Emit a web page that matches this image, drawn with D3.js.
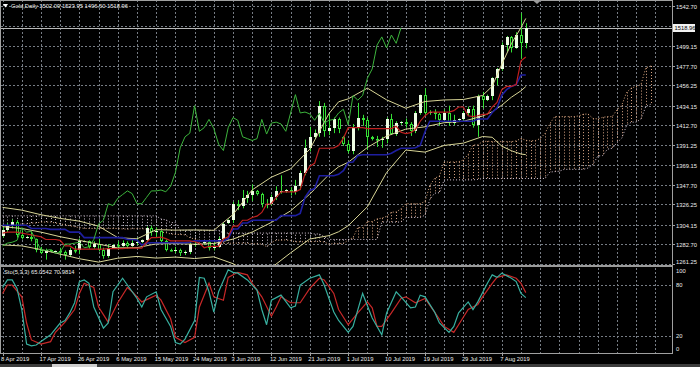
<!DOCTYPE html>
<html>
<head>
<meta charset="utf-8">
<script src="https://cdnjs.cloudflare.com/ajax/libs/d3/7.8.5/d3.min.js"></script>
<style>
  html, body { margin: 0; padding: 0; background: #000; }
  svg { display: block; font-family: "Liberation Sans", Arial, sans-serif; }
</style>
</head>
<body>
<svg id="chart" width="700" height="367"></svg>
<script>
// daily bars, 8 Apr .. 14 Aug 2019 (broker has short Sunday bars)
var opens = [1292,1298,1303,1307,1293,1290,1291,1288,1276,1273,1276,1275,1275,1274,1271,1277,1276,1286,1286,1280,
  1283,1277,1270,1279,1282,1281,1284,1281,1284,1285,1287,1301,1296,1297,1286,1277,1276,1277,1273,1274,
  1283,1283,1284,1285,1279,1280,1288,1306,1309,1327,1325,1333,1337,1341,1338,1327,1327,1334,1341,1341,
  1342,1340,1346,1361,1388,1400,1404,1434,1406,1410,1419,1400,1392,1385,1410,1421,1418,1400,1398,1396,
  1398,1419,1403,1415,1416,1414,1406,1426,1446,1426,1427,1425,1418,1426,1415,1418,1419,1426,1430,1413,
  1445,1440,1445,1464,1474,1500,1509,1497,1511,1502.09];
var highs = [1302,1306,1310,1309,1298,1292,1296,1289,1280,1278,1277,1276,1279,1276,1279,1281,1289,1287,1287,1286,
  1289,1279,1283,1283,1286,1287,1286,1288,1290,1288,1302,1303,1301,1298,1288,1278,1280,1278,1276,1286,
  1286,1285,1287,1287,1285,1291,1306,1310,1329,1331,1342,1341,1348,1342,1339,1332,1337,1346,1358,1343,
  1345,1353,1363,1397,1411,1408,1439,1437,1425,1421,1421,1401,1396,1414,1437,1424,1421,1401,1401,1400,
  1421,1425,1417,1417,1420,1416,1428,1446,1453,1429,1430,1426,1430,1434,1424,1420,1428,1433,1434,1446,
  1449,1446,1465,1475,1503,1510,1510,1514,1535,1523.95];
var lows = [1290,1296,1300,1290,1288,1289,1286,1274,1272,1266,1274,1274,1270,1266,1269,1273,1272,1285,1278,1278,
  1275,1267,1268,1278,1277,1280,1278,1280,1282,1284,1285,1292,1291,1284,1275,1275,1273,1270,1271,1272,
  1280,1282,1282,1276,1276,1279,1287,1305,1306,1320,1322,1328,1330,1336,1323,1322,1325,1331,1338,1339,
  1336,1337,1342,1358,1384,1398,1400,1400,1402,1404,1404,1390,1382,1381,1407,1412,1386,1396,1389,1388,
  1393,1402,1401,1413,1410,1401,1404,1424,1424,1424,1419,1412,1416,1412,1413,1417,1417,1423,1410,1400,
  1431,1439,1440,1456,1472,1493,1492,1496,1485,1496.60];
var closes = [1298,1303,1307,1293,1290,1291,1288,1276,1273,1276,1275,1275,1274,1271,1277,1276,1286,1286,1280,1283,
  1277,1270,1279,1282,1281,1284,1281,1284,1285,1287,1301,1296,1297,1286,1277,1276,1277,1273,1274,1283,
  1283,1284,1285,1279,1280,1288,1305,1309,1327,1325,1333,1337,1341,1338,1327,1327,1334,1341,1341,1342,
  1340,1346,1361,1388,1400,1404,1434,1406,1410,1419,1409,1392,1385,1410,1421,1418,1400,1398,1396,1398,
  1419,1403,1415,1416,1414,1406,1426,1446,1426,1427,1425,1418,1426,1415,1418,1419,1426,1430,1413,1445,
  1440,1445,1464,1474,1500,1509,1497,1511,1502,1518.96];

var tickBars = [0,8,16,24,32,40,48,56,64,72,80,88,96,104];
var tickLabels = ["8 Apr 2019","17 Apr 2019","26 Apr 2019","6 May 2019","15 May 2019","24 May 2019","3 Jun 2019",
  "12 Jun 2019","21 Jun 2019","1 Jul 2019","10 Jul 2019","19 Jul 2019","29 Jul 2019","7 Aug 2019"];
var priceLevels = [1542.70,1520.93,1499.15,1477.70,1456.25,1434.15,1412.70,1391.25,1369.15,1347.70,1326.25,1304.15,1282.70,1261.25];
var stochLevels = [100,80,20,0];

// Ichimoku
var tenkan = [1295,1296,1296,1296,1295,1294,1293,1292,1291,1288,1288,1288,1287,1281,1281,
  1277.5,1277.5,1277.5,1277.5,1277.5,1277.5,1277.5,1278,1278,1278,1278,1278.5,1278.5,1278.5,1278.5,
  1285,1290,1290,1290.5,1289,1286.5,1286.5,1286.5,1286.5,1286.5,1285.5,1284,1279,1280.5,1280.5,1280.5,
  1288.5,1291,1302.5,1302.5,1309,1309,1312,1313.5,1317.5,1326.5,1327,1334,1340,1340,1340,1340,
  1342.5,1359.5,1368,1371,1387.5,1387.5,1387.5,1388,1390.5,1398.5,1410,1410,1410,1410,
  1409,1409,1409,1409,1409,1409,1411.5,1405,1403.5,1404.5,1408,1417,1423,1427,1427,1427,1427,1427,
  1428.5,1432.5,1432.5,1423,1422,1423,1424.5,1424.5,1432.5,1437.5,1451.5,1455,1455,1457,1483,1487];
var kijun = [1303.5,1303.5,1303.5,1303.5,1303.5,1303.5,1300,1300,1300,1300,1299,1299,1299,1299,1296,1296,1296,
  1290,1290,1290,1290,1290,1290,1290,1290,1290,1288,1288,1287.5,1282,1284,
  1284.5,1284.5,1284.5,1284.5,1284.5,1284.5,1284.5,1284.5,1285,1286.5,1286.5,1286.5,1286.5,1286.5,1286.5,1286.5,
  1289,1299.5,1299.5,1306,1306,1309,1309,1309,1309,1309,1309,1314,1314,1314,1314,1316.5,1334,1341.5,1343.5,
  1357.5,1357.5,1357.5,1357.5,1359,1363,1372,1372.5,1379.5,1380.5,1380.5,1380.5,1380.5,1380.5,1380.5,
  1382,1385,1387.5,1387.5,1387.5,1388,1390.5,1405.5,1417,1417,1417,1417,1417,1417,1417,1417,1417,1417,
  1419.5,1419.5,1419.5,1426.5,1431.5,1445.5,1451.5,1455,1457,1467.5,1467.5];
// senkou spans as displayed (already shifted 26 bars ahead), bars 0..135
var spanA = [1302,1302,1303,1304,1305,1305,1306,1306,1307,1307,1307,1306,1305,1304,1303,1302,1301,1300,1300,1300,
  1300,1300,1300,1300,1300,1299.5,1299.25,1299.75,1299.75,1299.75,1299.25,1298.75,1296.5,1296,1295.5,1294,
  1293.5,1293.5,1293,1290,1288.5,1286.75,1286.75,1283.75,1283.75,1283.75,1283.75,1283.75,1284,1284,1284,1284,
  1283.25,1283.25,1283,1280.25,1284.5,1287.25,1287.25,1287.5,1286.75,1285.5,1285.5,1285.5,1285.5,1285.75,
  1286,1285.25,1282.75,1283.5,1283.5,1283.5,1287.5,1290,1301,1301,1307.5,1307.5,1310.5,1311.25,1313.25,
  1317.75,1318,1321.5,1327,1327,1327,1327,1329.5,1346.75,1354.75,1357.25,1372.5,1372.5,1372.5,1372.75,
  1374.75,1380.75,1391,1391.25,1394.75,1395.25,1394.75,1394.75,1394.75,1394.75,1394.75,1395.5,1398.25,
  1396.25,1395.5,1396,1398,1403.75,1414.25,1422,1422,1422,1422,1422,1422.75,1424.75,1424.75,1420,1419.5,
  1421.25,1422,1422,1429.5,1434.5,1448.5,1453.25,1455,1457,1475.25,1477.25];
var spanB = [1313.8,1313.8,1313.8,1313.8,1313.8,1313.8,1313.8,1313.8,1313.8,1313.8,1313.8,1313.8,1313.8,1313.8,
  1313.8,1313.8,1313.8,1313.8,1313.8,1313.8,1313.8,1313.8,1313.8,1313.8,1313.8,1313.8,1313.8,1313.8,1313.8,
  1313.8,1313.8,1313.8,1313.8,1310.4,1309.4,1306.4,1306.4,1298,1298,1298,1298,1298,1298,1298,1298,1298,
  1295,1295,1295,1295,1295,1295,1295,1295,1295,1295,1295,1295,1295,1295,1295,1295,1295,1295,1295,
  1294,1294,1291,1288,1288,1288,1288,1288,1288,1288,1288,1288,1288,1288,1307,1307,1307,1307,1307,
  1312,1312,1312,1312,1314.5,1331.5,1338.5,1339,1353,1353,1353,1353,1353,1353,1353,1353.5,
  1354.5,1354.5,1354.5,1354.5,1354.5,1354.5,1354.5,1354.5,1354.5,1354.5,1354.5,1354.5,1354.5,1354.5,
  1361.5,1362,1362.5,1364.5,1364.5,1364.5,1364.5,1364.5,1366,1370,1379,1379.5,1386.5,1387.5,1393.5,
  1398.5,1412.5,1416,1416,1419.5,1433,1435.5];

// Bollinger bands (20, 2)
var bbUpper = [[0,1323],[4,1320],[8,1315],[12,1311],[16,1308],[20,1302.5],[24,1290],[28,1288.7],[32,1298.7],
  [36,1298.2],[40,1298.4],[44,1298],[48,1315.2],[52,1342.1],[56,1356],[60,1365],[64,1386.5],[68,1425.4],
  [70,1438.2],[72,1441.4],[76,1453.1],[80,1440.3],[84,1431.2],[88,1438.5],[92,1440.2],[96,1440.7],
  [100,1445.1],[102,1455.1],[104,1479.2],[106,1501.6],[108,1519.2],[109,1529.1]];
var bbMiddle = [[0,1302],[4,1300],[8,1296],[12,1291],[16,1287],[19,1283.9],[24,1278.8],[28,1279.1],[32,1283.2],
  [36,1283.5],[40,1282.8],[44,1283.6],[48,1288.4],[52,1296.1],[56,1306.6],[60,1319.2],[64,1337.5],[68,1358.8],
  [70,1367.3],[72,1372.2],[76,1388.4],[80,1400.7],[84,1408.4],[88,1410.9],[92,1415.4],[96,1416.9],
  [100,1422.7],[102,1427.3],[104,1434.5],[106,1443.2],[108,1450.2],[109,1454.8]];
var bbLower = [[0,1282],[4,1281],[8,1277],[12,1272],[16,1267],[20,1263.3],[24,1267.6],[28,1269.5],[32,1267.7],
  [36,1268.8],[40,1267.2],[44,1269.1],[48,1261.6],[52,1250.1],[56,1257.2],[60,1273.4],[64,1288.5],[68,1292.2],
  [70,1296.4],[72,1303],[76,1323.7],[80,1361.1],[84,1385.6],[88,1383.3],[92,1390.6],[96,1393.1],
  [100,1400.3],[102,1399.5],[104,1389.8],[106,1384.8],[108,1381.2],[109,1380.5]];

// Stochastic (5,3,3)
var stochMain = [[0,77],[1,86],[2,86],[3,76],[4,51],[5,10],[6,8],[7,9],[8,13],[10,21],[12,35],[13,38],[14,47],
  [15,59],[16,84],[17,86],[18,82],[19,54],[21,29],[22,35],[23,72],[25,88],[26,80],[28,64],[29,54],[30,66],
  [32,72],[33,51],[35,31],[36,12],[37,10],[38,16],[40,38],[41,89],[42,88],[43,72],[44,48],[45,72],[47,98],
  [48,95],[49,94],[51,86],[53,74],[54,51],[55,33],[56,62],[58,68],[60,53],[61,55],[62,80],[64,88],[66,92],
  [67,80],[69,48],[70,38],[72,24],[73,31],[75,70],[77,41],[79,21],[80,47],[82,72],[83,66],[85,53],[86,54],
  [87,68],[88,66],[90,48],[91,35],[93,24],[94,31],[95,47],[97,60],[98,51],[99,60],[101,82],[102,92],[103,89],
  [104,94],[106,88],[107,84],[108,70],[109,65.05]];
var stochSignal = [[0,70],[1,80],[2,80],[4,66],[5,35],[6,15],[8,10],[10,13],[11,24],[13,36],[15,51],[16,70],
  [17,82],[19,77],[20,54],[22,36],[24,59],[26,77],[27,72],[29,60],[32,68],[33,62],[35,40],[36,18],[38,12],
  [40,18],[41,54],[43,82],[44,66],[46,62],[47,89],[49,95],[51,92],[52,82],[54,66],[56,43],[57,54],[58,66],
  [60,59],[62,59],[64,76],[66,88],[67,86],[69,70],[70,51],[72,33],[74,47],[76,60],[77,53],[78,31],[79,31],
  [81,47],[83,64],[84,66],[86,59],[88,64],[90,48],[92,31],[94,24],[95,33],[97,51],[99,57],[100,66],[102,82],
  [103,89],[105,92],[107,88],[108,82],[109,70.98]];

var header = "Gold,Daily  1502.09 1523.95 1496.60 1518.96";
var stochTitle = "Sto(5,3,3) 65.0542 70.9814";
var chikouShift = 26;

var svg = d3.select("#chart");
var W = 700, right = 672, mainTop = 1, mainBottom = 265, stTop = 268, stBottom = 353;

var x = d3.scaleLinear().domain([0, 137]).range([2.6, 2.6 + 4.8 * 137]);
var y = d3.scaleLinear().domain([1261.25, 1542.7]).range([264, 6]);
var ys = d3.scaleLinear().domain([0, 100]).range([352.6, 268.1]);
var px = function(i) { return Math.round(x(i)) + 0.5; };

svg.append("rect").attr("width", W).attr("height", 367).attr("fill", "#000");

var defs = svg.append("defs");
defs.append("clipPath").attr("id", "clipMain").append("rect")
  .attr("x", 1).attr("y", mainTop).attr("width", right - 1).attr("height", mainBottom - mainTop);
defs.append("clipPath").attr("id", "clipSto").append("rect")
  .attr("x", 1).attr("y", stTop).attr("width", right - 1).attr("height", stBottom - stTop);

var gridColor = "#767c84";

// vertical grid, both panels
var vgrid = svg.append("g");
d3.range(0, 138, 4).forEach(function(b) {
  vgrid.append("line").attr("x1", px(b)).attr("x2", px(b)).attr("y1", 0).attr("y2", mainBottom)
    .attr("stroke", gridColor).attr("stroke-dasharray", "2,2");
  vgrid.append("line").attr("x1", px(b)).attr("x2", px(b)).attr("y1", stTop).attr("y2", stBottom)
    .attr("stroke", gridColor).attr("stroke-dasharray", "2,2");
});
priceLevels.forEach(function(p) {
  var yy = Math.round(y(p)) + 0.5;
  vgrid.append("line").attr("x1", 1).attr("x2", right).attr("y1", yy).attr("y2", yy)
    .attr("stroke", gridColor).attr("stroke-dasharray", "2,2");
});
[80, 20].forEach(function(v) {
  var yy = Math.round(ys(v)) + 0.5;
  vgrid.append("line").attr("x1", 1).attr("x2", right).attr("y1", yy).attr("y2", yy)
    .attr("stroke", gridColor).attr("stroke-dasharray", "2,2");
});

var main = svg.append("g").attr("clip-path", "url(#clipMain)");

// kumo hatching
var kumo = main.append("g");
spanA.forEach(function(a, j) {
  var b = spanB[j];
  kumo.append("line").attr("x1", px(j)).attr("x2", px(j)).attr("y1", y(a)).attr("y2", y(b))
    .attr("stroke", a >= b ? "#d8a484" : "#cfc2cf").attr("stroke-width", 1)
    .attr("stroke-dasharray", "1,2");
});
var lineIdx = d3.line().x(function(d, i) { return x(i); }).y(function(d) { return y(d); });
kumo.append("path").attr("d", lineIdx(spanA)).attr("fill", "none")
  .attr("stroke", "#e0aa80").attr("stroke-dasharray", "1,2");
kumo.append("path").attr("d", lineIdx(spanB)).attr("fill", "none")
  .attr("stroke", "#d8c8d8").attr("stroke-dasharray", "1,2");

// bid line
main.append("line").attr("x1", 1).attr("x2", right).attr("y1", Math.round(y(1518.96)) + 0.5)
  .attr("y2", Math.round(y(1518.96)) + 0.5).attr("stroke", "#b8b8b8");

// candles
var candleColor = "#35e035";
var cg = main.append("g");
closes.forEach(function(c, i) {
  var o = opens[i], cx = px(i);
  cg.append("line").attr("x1", cx).attr("x2", cx).attr("y1", y(highs[i])).attr("y2", y(lows[i]))
    .attr("stroke", candleColor);
  var top = Math.round(y(Math.max(o, c))), bot = Math.round(y(Math.min(o, c)));
  if (bot - top < 1) bot = top + 1;
  if (c >= o) {
    cg.append("rect").attr("x", cx - 1.5).attr("y", top).attr("width", 3).attr("height", bot - top)
      .attr("fill", "#eefde4");
  } else {
    cg.append("rect").attr("x", cx - 1).attr("y", top + 0.5).attr("width", 2).attr("height", Math.max(bot - top - 1, 0.5))
      .attr("fill", "#000").attr("stroke", candleColor);
  }
});

// bands
var linePair = d3.line().x(function(d) { return x(d[0]); }).y(function(d) { return y(d[1]); });
var bandColor = "#d8d596";
[bbUpper, bbMiddle, bbLower].forEach(function(s) {
  main.append("path").attr("d", linePair(s)).attr("fill", "none").attr("stroke", bandColor);
});

// ichimoku lines
main.append("path").attr("d", lineIdx(kijun)).attr("fill", "none").attr("stroke", "#1e1ea0").attr("stroke-width", 1.6);
main.append("path").attr("d", lineIdx(tenkan)).attr("fill", "none").attr("stroke", "#c02020").attr("stroke-width", 1.2);
var chikou = d3.line().x(function(d, i) { return x(i); }).y(function(d) { return y(d); });
main.append("path").attr("d", chikou(closes.slice(chikouShift))).attr("fill", "none")
  .attr("stroke", "#3cb43c").attr("stroke-width", 1);

// stochastic
var sto = svg.append("g").attr("clip-path", "url(#clipSto)");
var stoLine = d3.line().x(function(d) { return x(d[0]); }).y(function(d) { return ys(d[1]); });
sto.append("path").attr("d", stoLine(stochSignal)).attr("fill", "none").attr("stroke", "#c82828").attr("stroke-width", 1.2);
sto.append("path").attr("d", stoLine(stochMain)).attr("fill", "none").attr("stroke", "#38b0a0").attr("stroke-width", 1.2);

// panel frames and separator
svg.append("rect").attr("x", 0).attr("y", mainBottom).attr("width", right + 1).attr("height", 2).attr("fill", "#9a9a9a");
svg.append("line").attr("x1", right + 0.5).attr("x2", right + 0.5).attr("y1", 0).attr("y2", stBottom).attr("stroke", "#a0a0a0");
svg.append("line").attr("x1", 0.5).attr("x2", 0.5).attr("y1", 0).attr("y2", stBottom).attr("stroke", "#a0a0a0");
svg.append("line").attr("x1", 0).attr("x2", right + 1).attr("y1", 0.5).attr("y2", 0.5).attr("stroke", "#a0a0a0");
svg.append("line").attr("x1", 0).attr("x2", right + 1).attr("y1", stBottom + 0.5).attr("y2", stBottom + 0.5).attr("stroke", "#a0a0a0");

// axis text
var txt = svg.append("g").attr("fill", "#ececec").attr("font-size", "5.8px");
priceLevels.forEach(function(p, k) {
  var yy = Math.round(y(p)) + 0.5;
  svg.append("line").attr("x1", right).attr("x2", right + 3).attr("y1", yy).attr("y2", yy).attr("stroke", "#a0a0a0");
  if (k === 1) return;
  txt.append("text").attr("x", 676).attr("y", Math.min(yy, 262) + 2).text(p.toFixed(2));
});
// bid price label
var by = Math.round(y(1518.96));
svg.append("rect").attr("x", 673).attr("y", by - 4).attr("width", 22).attr("height", 8).attr("fill", "#f2f2f2");
svg.append("text").attr("x", 674.5).attr("y", by + 2).attr("font-size", "5.8px").attr("fill", "#000").text("1518.96");

stochLevels.forEach(function(v) {
  var yy = Math.min(Math.max(ys(v), 271), 349);
  txt.append("text").attr("x", 676).attr("y", yy + 2).text(v);
});
tickBars.forEach(function(b, k) {
  svg.append("line").attr("x1", px(b)).attr("x2", px(b)).attr("y1", stBottom).attr("y2", stBottom + 3).attr("stroke", "#a0a0a0");
  txt.append("text").attr("x", x(b) - 1.5).attr("y", 361).text(tickLabels[k]);
});

// header and panel title
svg.append("path").attr("d", "M3,4 L8,4 L5.5,7.5 Z").attr("fill", "#fff");
txt.append("text").attr("x", 11).attr("y", 8).text(header);
txt.append("text").attr("x", 4).attr("y", 273.5).text(stochTitle);

// chart shift marker
svg.append("path").attr("d", "M533,0.5 L541,0.5 L537,4 Z").attr("fill", "#9a9a9a");

// bottom tab bar
svg.append("rect").attr("x", 0).attr("y", 364).attr("width", W).attr("height", 3).attr("fill", "#3c3c3c");
svg.append("rect").attr("x", 52).attr("y", 364).attr("width", 45).attr("height", 3).attr("fill", "#cfcfcf");
</script>
</body>
</html>
